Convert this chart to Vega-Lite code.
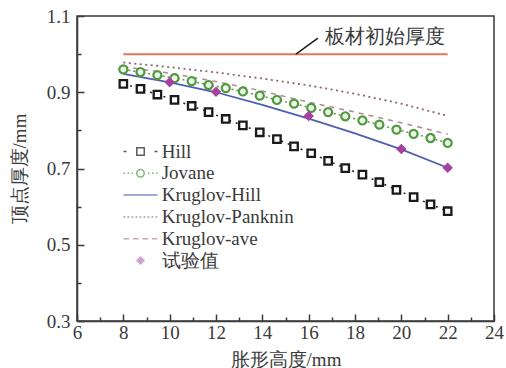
{
  "$schema": "https://vega.github.io/schema/vega-lite/v6.json",
  "width": 417,
  "height": 305,
  "autosize": {"type": "none"},
  "padding": {"left": 77, "top": 16, "right": 12, "bottom": 47},
  "background": "#ffffff",
  "config": {
    "font": "Liberation Serif",
    "view": {"stroke": "#3a3a3a", "strokeWidth": 1.5},
    "axis": {
      "grid": false,
      "domainColor": "#3a3a3a",
      "domainWidth": 1.5,
      "ticks": true,
      "tickColor": "#3a3a3a",
      "tickWidth": 1.5,
      "labelColor": "#3a3a3a",
      "labelFont": "Liberation Serif",
      "labelFontSize": 19,
      "titleColor": "#3a3a3a",
      "titleFont": "Liberation Serif",
      "titleFontSize": 19,
      "titleFontWeight": "normal"
    },
    "legend": {
      "orient": "none",
      "legendX": 54,
      "legendY": 126,
      "padding": 0,
      "symbolSize": 100,
      "symbolStrokeWidth": 1.5,
      "labelOffset": 11.7,
      "labelFont": "Liberation Serif",
      "labelFontSize": 19,
      "labelColor": "#3a3a3a",
      "labelLimit": 300,
      "rowPadding": 1.8
    }
  },
  "datasets": {
    "curves": [
      {"series": "Hill", "h": 8.0, "t": 0.922},
      {"series": "Hill", "h": 8.74, "t": 0.909},
      {"series": "Hill", "h": 9.47, "t": 0.894},
      {"series": "Hill", "h": 10.21, "t": 0.88},
      {"series": "Hill", "h": 10.95, "t": 0.864},
      {"series": "Hill", "h": 11.68, "t": 0.848},
      {"series": "Hill", "h": 12.42, "t": 0.83},
      {"series": "Hill", "h": 13.16, "t": 0.813},
      {"series": "Hill", "h": 13.89, "t": 0.795},
      {"series": "Hill", "h": 14.63, "t": 0.777},
      {"series": "Hill", "h": 15.37, "t": 0.758},
      {"series": "Hill", "h": 16.11, "t": 0.74},
      {"series": "Hill", "h": 16.84, "t": 0.72},
      {"series": "Hill", "h": 17.58, "t": 0.701},
      {"series": "Hill", "h": 18.32, "t": 0.684},
      {"series": "Hill", "h": 19.05, "t": 0.664},
      {"series": "Hill", "h": 19.79, "t": 0.644},
      {"series": "Hill", "h": 20.53, "t": 0.625},
      {"series": "Hill", "h": 21.26, "t": 0.606},
      {"series": "Hill", "h": 22.0, "t": 0.588},
      {"series": "Jovane", "h": 8.0, "t": 0.96},
      {"series": "Jovane", "h": 8.74, "t": 0.953},
      {"series": "Jovane", "h": 9.47, "t": 0.945},
      {"series": "Jovane", "h": 10.21, "t": 0.937},
      {"series": "Jovane", "h": 10.95, "t": 0.929},
      {"series": "Jovane", "h": 11.68, "t": 0.919},
      {"series": "Jovane", "h": 12.42, "t": 0.911},
      {"series": "Jovane", "h": 13.16, "t": 0.902},
      {"series": "Jovane", "h": 13.89, "t": 0.891},
      {"series": "Jovane", "h": 14.63, "t": 0.88},
      {"series": "Jovane", "h": 15.37, "t": 0.87},
      {"series": "Jovane", "h": 16.11, "t": 0.859},
      {"series": "Jovane", "h": 16.84, "t": 0.848},
      {"series": "Jovane", "h": 17.58, "t": 0.837},
      {"series": "Jovane", "h": 18.32, "t": 0.826},
      {"series": "Jovane", "h": 19.05, "t": 0.815},
      {"series": "Jovane", "h": 19.79, "t": 0.802},
      {"series": "Jovane", "h": 20.53, "t": 0.791},
      {"series": "Jovane", "h": 21.26, "t": 0.78},
      {"series": "Jovane", "h": 22.0, "t": 0.767},
      {"series": "Kruglov-Hill", "h": 8, "t": 0.948},
      {"series": "Kruglov-Hill", "h": 10, "t": 0.926},
      {"series": "Kruglov-Hill", "h": 12, "t": 0.9},
      {"series": "Kruglov-Hill", "h": 14, "t": 0.867},
      {"series": "Kruglov-Hill", "h": 16, "t": 0.831},
      {"series": "Kruglov-Hill", "h": 18, "t": 0.792},
      {"series": "Kruglov-Hill", "h": 20, "t": 0.75},
      {"series": "Kruglov-Hill", "h": 22, "t": 0.702},
      {"series": "Kruglov-Panknin", "h": 8, "t": 0.978},
      {"series": "Kruglov-Panknin", "h": 10, "t": 0.966},
      {"series": "Kruglov-Panknin", "h": 12, "t": 0.952},
      {"series": "Kruglov-Panknin", "h": 14, "t": 0.936},
      {"series": "Kruglov-Panknin", "h": 16, "t": 0.918},
      {"series": "Kruglov-Panknin", "h": 18, "t": 0.896},
      {"series": "Kruglov-Panknin", "h": 20, "t": 0.87},
      {"series": "Kruglov-Panknin", "h": 22, "t": 0.838},
      {"series": "Kruglov-ave", "h": 8, "t": 0.967},
      {"series": "Kruglov-ave", "h": 10, "t": 0.95},
      {"series": "Kruglov-ave", "h": 12, "t": 0.928},
      {"series": "Kruglov-ave", "h": 14, "t": 0.903},
      {"series": "Kruglov-ave", "h": 16, "t": 0.874},
      {"series": "Kruglov-ave", "h": 18, "t": 0.848},
      {"series": "Kruglov-ave", "h": 20, "t": 0.82},
      {"series": "Kruglov-ave", "h": 22, "t": 0.79},
      {"series": "试验值", "h": 10, "t": 0.926},
      {"series": "试验值", "h": 12, "t": 0.901},
      {"series": "试验值", "h": 16, "t": 0.838},
      {"series": "试验值", "h": 20, "t": 0.751},
      {"series": "试验值", "h": 22, "t": 0.702}
    ],
    "sheet": [
      {"series": "板材初始厚度", "h": 8, "t": 1.0},
      {"series": "板材初始厚度", "h": 22, "t": 1.0}
    ]
  },
  "resolve": {"axis": {"x": "independent", "y": "independent"}},
  "layer": [
    {
      "data": {"name": "sheet"},
      "mark": {"type": "line", "color": "#e2775a", "strokeWidth": 2},
      "encoding": {
        "x": {
          "field": "h",
          "type": "quantitative",
          "scale": {"domain": [6, 24], "nice": false, "zero": false},
          "axis": {
            "orient": "bottom",
            "title": "胀形高度/mm",
            "values": [6, 8, 10, 12, 14, 16, 18, 20, 22, 24],
            "tickSize": -7,
            "labelPadding": 9,
            "labelFlush": false,
            "titlePadding": 8
          }
        },
        "y": {
          "field": "t",
          "type": "quantitative",
          "scale": {"domain": [0.3, 1.1], "nice": false, "zero": false},
          "axis": {
            "orient": "left",
            "title": "顶点厚度/mm",
            "values": [0.3, 0.5, 0.7, 0.9, 1.1],
            "format": ".1f",
            "tickSize": -7,
            "labelPadding": 14,
            "labelFlush": false,
            "titlePadding": 17
          }
        }
      }
    },
    {
      "data": {"name": "curves"},
      "transform": [{"filter": "datum.series == 'Hill'"}],
      "mark": {"type": "line", "color": "#222222", "strokeWidth": 1.5, "strokeDash": [2, 5]},
      "encoding": {
        "x": {
          "field": "h",
          "type": "quantitative",
          "axis": {"orient": "bottom", "values": [7, 9, 11, 13, 15, 17, 19, 21, 23], "tickSize": -4, "labels": false, "domain": false, "title": null}
        },
        "y": {
          "field": "t",
          "type": "quantitative",
          "axis": {"orient": "left", "values": [0.4, 0.6, 0.8, 1.0], "tickSize": -4, "labels": false, "domain": false, "title": null}
        }
      }
    },
    {
      "data": {"name": "curves"},
      "transform": [{"filter": "datum.series == 'Jovane'"}],
      "mark": {"type": "line", "color": "#5a9a48", "strokeWidth": 1.5, "strokeDash": [2, 3]},
      "encoding": {"x": {"field": "h", "type": "quantitative", "axis": null}, "y": {"field": "t", "type": "quantitative", "axis": null}}
    },
    {
      "data": {"name": "curves"},
      "transform": [{"filter": "datum.series == 'Kruglov-Panknin'"}],
      "mark": {"type": "line", "color": "#8c6870", "strokeWidth": 1.8, "strokeDash": [2, 3.5]},
      "encoding": {"x": {"field": "h", "type": "quantitative", "axis": null}, "y": {"field": "t", "type": "quantitative", "axis": null}}
    },
    {
      "data": {"name": "curves"},
      "transform": [{"filter": "datum.series == 'Kruglov-ave'"}],
      "mark": {"type": "line", "color": "#b08a92", "strokeWidth": 1.5, "strokeDash": [5, 5]},
      "encoding": {"x": {"field": "h", "type": "quantitative", "axis": null}, "y": {"field": "t", "type": "quantitative", "axis": null}}
    },
    {
      "data": {"name": "curves"},
      "transform": [{"filter": "datum.series == 'Kruglov-Hill'"}],
      "mark": {"type": "line", "color": "#4f5fb0", "strokeWidth": 1.8},
      "encoding": {"x": {"field": "h", "type": "quantitative", "axis": null}, "y": {"field": "t", "type": "quantitative", "axis": null}}
    },
    {
      "data": {"name": "curves"},
      "transform": [{"filter": "datum.series == 'Hill'"}],
      "mark": {"type": "point", "shape": "square", "size": 55, "filled": false, "fill": "#ffffff", "stroke": "#1a1a1a", "strokeWidth": 2.3, "opacity": 1},
      "encoding": {"x": {"field": "h", "type": "quantitative", "axis": null}, "y": {"field": "t", "type": "quantitative", "axis": null}}
    },
    {
      "data": {"name": "curves"},
      "transform": [{"filter": "datum.series == 'Jovane'"}],
      "mark": {"type": "point", "shape": "circle", "size": 65, "filled": false, "fill": "#eef6e8", "stroke": "#4f9a40", "strokeWidth": 2.2, "opacity": 1},
      "encoding": {"x": {"field": "h", "type": "quantitative", "axis": null}, "y": {"field": "t", "type": "quantitative", "axis": null}}
    },
    {
      "data": {"name": "curves"},
      "transform": [{"filter": "datum.series == '试验值'"}],
      "mark": {"type": "point", "shape": "diamond", "size": 110, "filled": true, "color": "#a5429f", "opacity": 1},
      "encoding": {"x": {"field": "h", "type": "quantitative", "axis": null}, "y": {"field": "t", "type": "quantitative", "axis": null}}
    },
    {
      "data": {"values": [{}]},
      "mark": {"type": "rule", "color": "#1a1a1a", "strokeWidth": 1.5},
      "encoding": {
        "x": {"datum": 15.45, "type": "quantitative", "axis": null},
        "y": {"datum": 1.0, "type": "quantitative", "axis": null},
        "x2": {"datum": 16.4},
        "y2": {"datum": 1.042}
      }
    },
    {
      "data": {"values": [{}]},
      "mark": {"type": "text", "text": "板材初始厚度", "align": "left", "baseline": "middle", "fontSize": 20, "color": "#3a3a3a"},
      "encoding": {
        "x": {"datum": 16.7, "type": "quantitative", "axis": null},
        "y": {"datum": 1.044, "type": "quantitative", "axis": null}
      }
    },
    {
      "data": {"name": "curves"},
      "transform": [{"filter": "false"}],
      "mark": {"type": "point", "strokeWidth": 1.5},
      "encoding": {
        "x": {"field": "h", "type": "quantitative", "axis": null},
        "y": {"field": "t", "type": "quantitative", "axis": null},
        "shape": {
          "field": "series",
          "type": "nominal",
          "title": null,
          "scale": {
            "domain": ["Hill", "Jovane", "Kruglov-Hill", "Kruglov-Panknin", "Kruglov-ave", "试验值"],
            "range": [
              "M-3.4,0H-2.8M-0.75,-0.75H0.75V0.75H-0.75ZM2.8,0H3.4",
              "M-3.4,0H-3.1M-2.6,0H-2.3M-1.8,0H-1.5M-0.75,0A0.75,0.75 0 1,0 0.75,0A0.75,0.75 0 1,0 -0.75,0M1.5,0H1.8M2.3,0H2.6M3.1,0H3.4",
              "M-3.4,0H3.4",
              "M-3.4,0H-3.05M-2.6,0H-2.25M-1.8,0H-1.45M-1.0,0H-0.65M-0.2,0H0.15M0.6,0H0.95M1.4,0H1.75M2.2,0H2.55M3.0,0H3.35",
              "M-3.4,0H-2.3M-1.5,0H-0.4M0.4,0H1.5M2.3,0H3.4",
              "M0,-0.9L0.9,0L0,0.9L-0.9,0Z"
            ]
          }
        },
        "stroke": {
          "field": "series",
          "type": "nominal",
          "title": null,
          "scale": {
            "domain": ["Hill", "Jovane", "Kruglov-Hill", "Kruglov-Panknin", "Kruglov-ave", "试验值"],
            "range": ["#1a1a1a", "#4f9a40", "#4f5fb0", "#8c6870", "#b08a92", "transparent"]
          }
        },
        "fill": {
          "field": "series",
          "type": "nominal",
          "title": null,
          "scale": {
            "domain": ["Hill", "Jovane", "Kruglov-Hill", "Kruglov-Panknin", "Kruglov-ave", "试验值"],
            "range": ["#ffffff", "#ffffff", "transparent", "transparent", "transparent", "#a5429f"]
          }
        }
      }
    }
  ]
}
